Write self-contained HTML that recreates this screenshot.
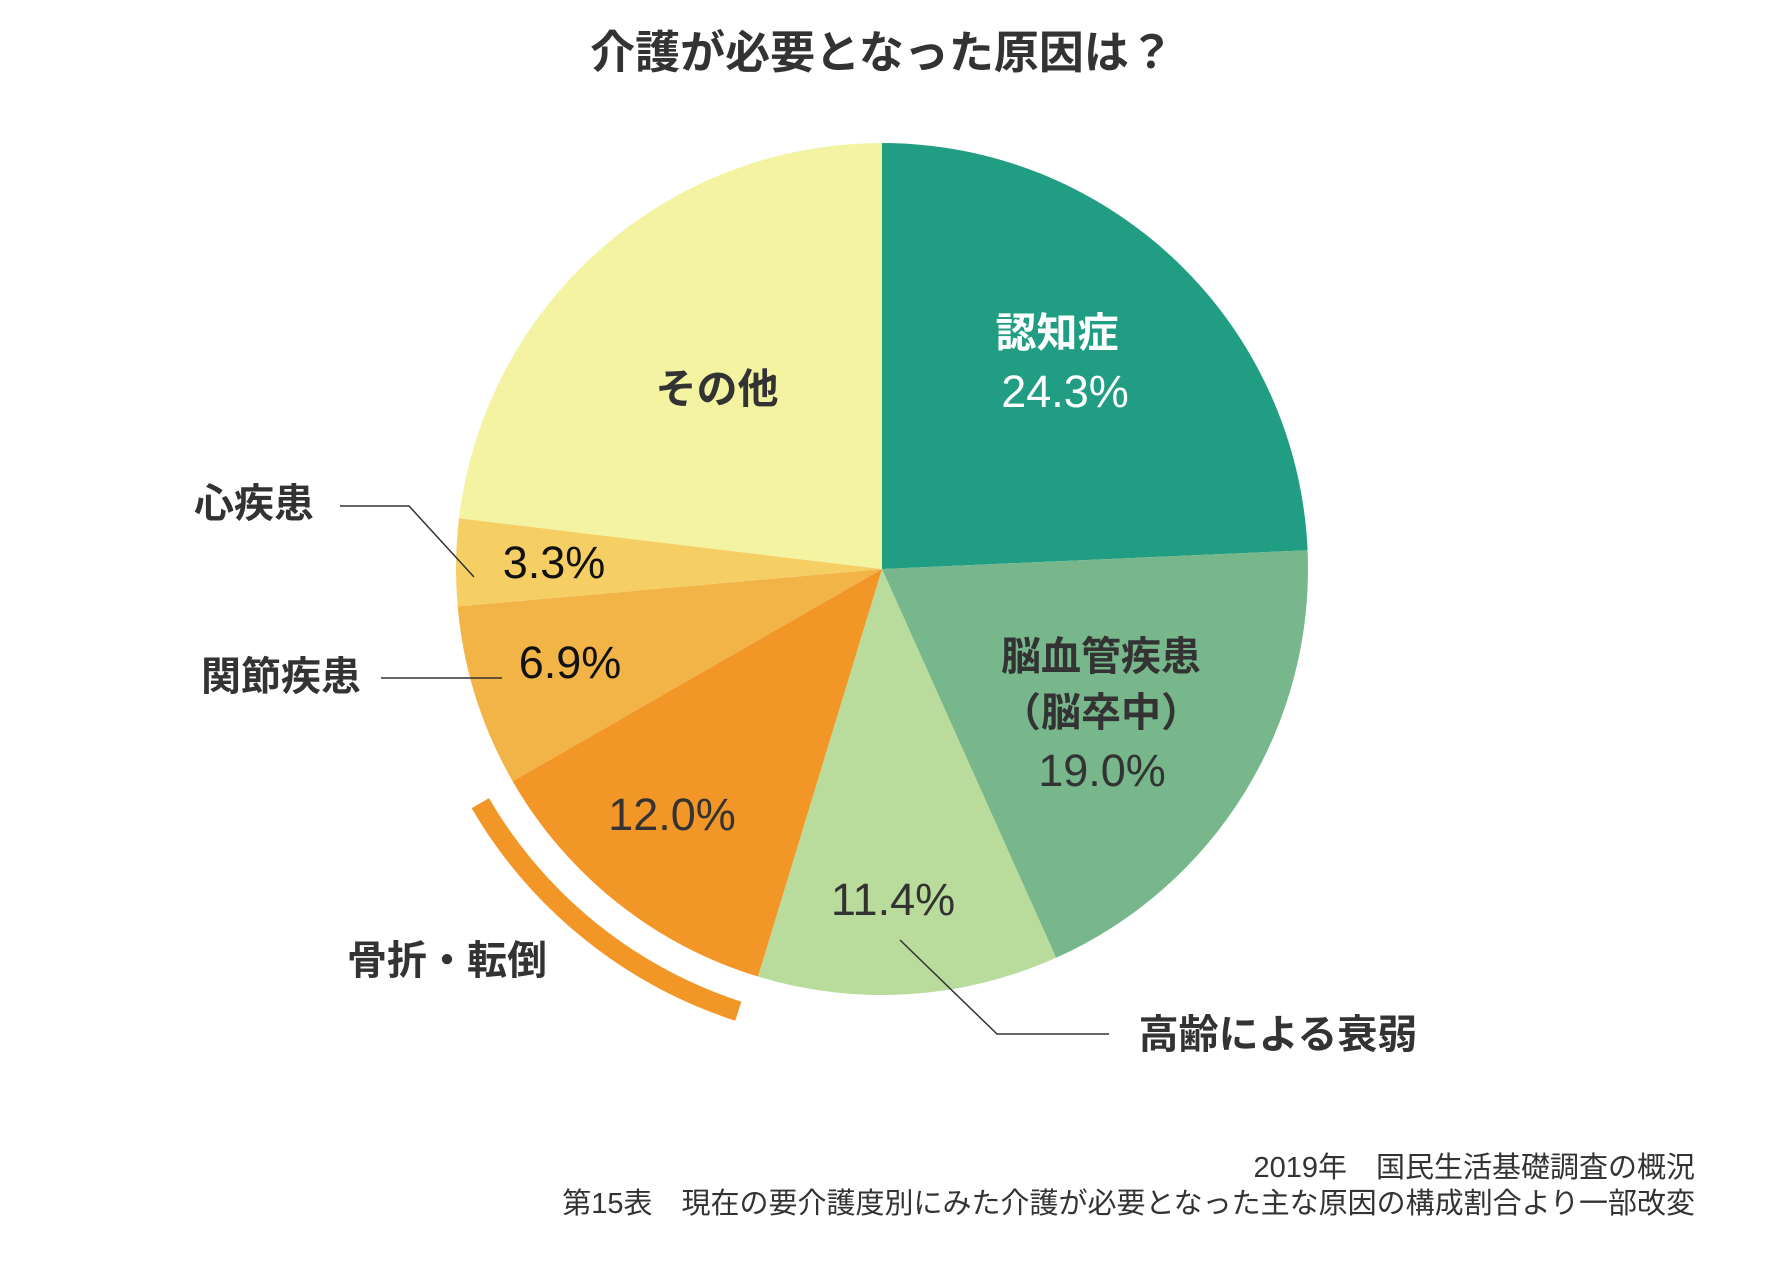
<!DOCTYPE html>
<html><head><meta charset="utf-8"><style>
html,body{margin:0;padding:0;background:#fff}
svg{display:block}
text{font-family:"Liberation Sans","Noto Sans CJK JP",sans-serif;fill:#333}
</style></head><body>
<svg id="chart" width="1770" height="1272" viewBox="0 0 1770 1272">
<text x="882" y="68" text-anchor="middle" font-size="45" font-weight="bold">介護が必要となった原因は？</text>
<g id="slices"></g>
<path id="fracture-arc" fill="none" stroke="#f39628" stroke-width="20"></path>
<g stroke="#333" stroke-width="1.5" fill="none">
<polyline points="340,506 409,506 474,577"/>
<polyline points="381,678 502,678"/>
<polyline points="900,940 997,1034 1109,1034"/>
</g>
<g font-weight="bold">
<text x="1057" y="347" text-anchor="middle" font-size="41" style="fill:#fff">認知症</text>
<text x="717" y="403" text-anchor="middle" font-size="41">その他</text>
<text x="1101" y="670" text-anchor="middle" font-size="40">脳血管疾患</text>
<text x="1101" y="726" text-anchor="middle" font-size="40">（脳卒中）</text>
<text x="254" y="517" text-anchor="middle" font-size="40">心疾患</text>
<text x="281" y="690" text-anchor="middle" font-size="40">関節疾患</text>
<text x="447" y="974" text-anchor="middle" font-size="40">骨折・転倒</text>
<text x="1278" y="1048" text-anchor="middle" font-size="40">高齢による衰弱</text>
</g>
<g id="values" font-size="45"></g>
<text x="1695" y="1177" text-anchor="end" font-size="29">2019年　国民生活基礎調査の概況</text>
<text x="1695" y="1213" text-anchor="end" font-size="29">第15表　現在の要介護度別にみた介護が必要となった主な原因の構成割合より一部改変</text>
</svg>
<script>
const categories = ["認知症","脳血管疾患","高齢による衰弱","骨折・転倒","関節疾患","心疾患","その他"];
const values = [24.3, 19.0, 11.4, 12.0, 6.9, 3.3, 23.1];
const valueLabels = ["24.3%","19.0%","11.4%","12.0%","6.9%","3.3%",""];
const colors = ["#209d83","#77b78b","#b9db9b","#f39628","#f2b446","#f5cf63","#f3f3a2"];
const textColors = ["#fff","#333","#333","#333","#111","#111","#333"];
const NS="http://www.w3.org/2000/svg";
const cx=882, cy=569, r=426;
const total=values.reduce((a,b)=>a+b,0);
function pt(frac,rad){const a=frac*2*Math.PI;return [cx+rad*Math.sin(a), cy-rad*Math.cos(a)];}
const g=document.getElementById('slices');
const vg=document.getElementById('values');
const labelPos=[[1065,392,0],[1102,771,0],[893,900,0],[672,815,0],[570,663,0],[554,563,0]];
let cum=0;
values.forEach((v,i)=>{
  const s=cum/total, e=(cum+v)/total; cum+=v;
  const [x1,y1]=pt(s,r),[x2,y2]=pt(e,r);
  const p=document.createElementNS(NS,'path');
  p.setAttribute('d',`M${cx},${cy} L${x1},${y1} A${r},${r} 0 ${e-s>0.5?1:0} 1 ${x2},${y2} Z`);
  p.setAttribute('fill',colors[i]);
  
  
  g.appendChild(p);
  if(valueLabels[i]){
    // position: default fraction of mid-angle radius, matched to reference
    const m=(s+e)/2;
    const rf=[0.5,0.62,0.78,0.6,0.74,0.8][i];
    const [lx,ly]=pt(m,r*rf);
    const t=document.createElementNS(NS,'text');
    t.setAttribute('x',labelPos[i]?lx+(labelPos[i][0]-lx)*1:lx);
    t.setAttribute('y',(labelPos[i]?labelPos[i][1]:ly)+15);
    t.setAttribute('text-anchor','middle');
    
    
    t.style.fill=textColors[i];
    t.textContent=valueLabels[i];
    vg.appendChild(t);
  }
});
// fracture arc over slice index 3
let st=0; for(let i=0;i<3;i++) st+=values[i];
const fs=st/total, fe=(st+values[3])/total, ar=465;
const [a1x,a1y]=pt(fs+0.003,ar),[a2x,a2y]=pt(fe-0.001,ar);
document.getElementById('fracture-arc').setAttribute('d',`M${a1x},${a1y} A${ar},${ar} 0 0 1 ${a2x},${a2y}`);
</script>
</body></html>
